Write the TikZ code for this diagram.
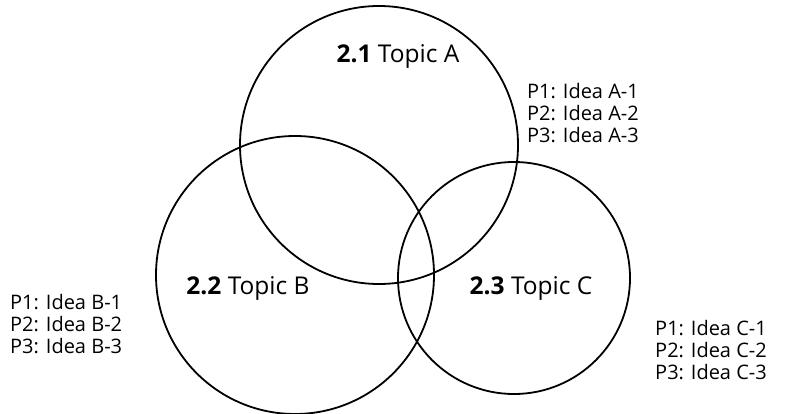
\documentclass[tikz,border=0pt]{standalone}
\usepackage{fontspec}
\setmainfont{Open Sans}
\usetikzlibrary{positioning}
\tikzstyle{topic}=[circle, draw=black, line width=1.8pt, inner sep=0pt]
\tikzstyle{topiclabel}=[font=\fontsize{24.5}{28}\selectfont, anchor=base, inner sep=0pt]
\tikzstyle{ideas}=[font=\fontsize{20}{22}\selectfont, align=left, anchor=west, inner sep=0pt]
\newcommand{\topictext}[4]{
\node (#1) [topiclabel] at (#2) {\textbf{#3} Topic #4};}

\begin{document}
\begin{tikzpicture}[x=1pt, y=-1pt]
\useasboundingbox (0,0) rectangle (786,414);

\node (CircleA) [topic, minimum size=278pt] at (379,145) {};
\node (CircleB) [topic, minimum size=278pt] at (295,275) {};
\node (CircleC) [topic, minimum size=232pt] at (514,278) {};

\topictext{LabelA}{398,63}{2.1}{A}
\topictext{LabelB}{248,294}{2.2}{B}
\topictext{LabelC}{531,294}{2.3}{C}

\node (IdeasA) [ideas] at (527,113) {P1: Idea A-1\\P2: Idea A-2\\P3: Idea A-3};
\node (IdeasB) [ideas] at (10,324) {P1: Idea B-1\\P2: Idea B-2\\P3: Idea B-3};
\node (IdeasC) [ideas] at (655,350) {P1: Idea C-1\\P2: Idea C-2\\P3: Idea C-3};

\end{tikzpicture}
\end{document}
